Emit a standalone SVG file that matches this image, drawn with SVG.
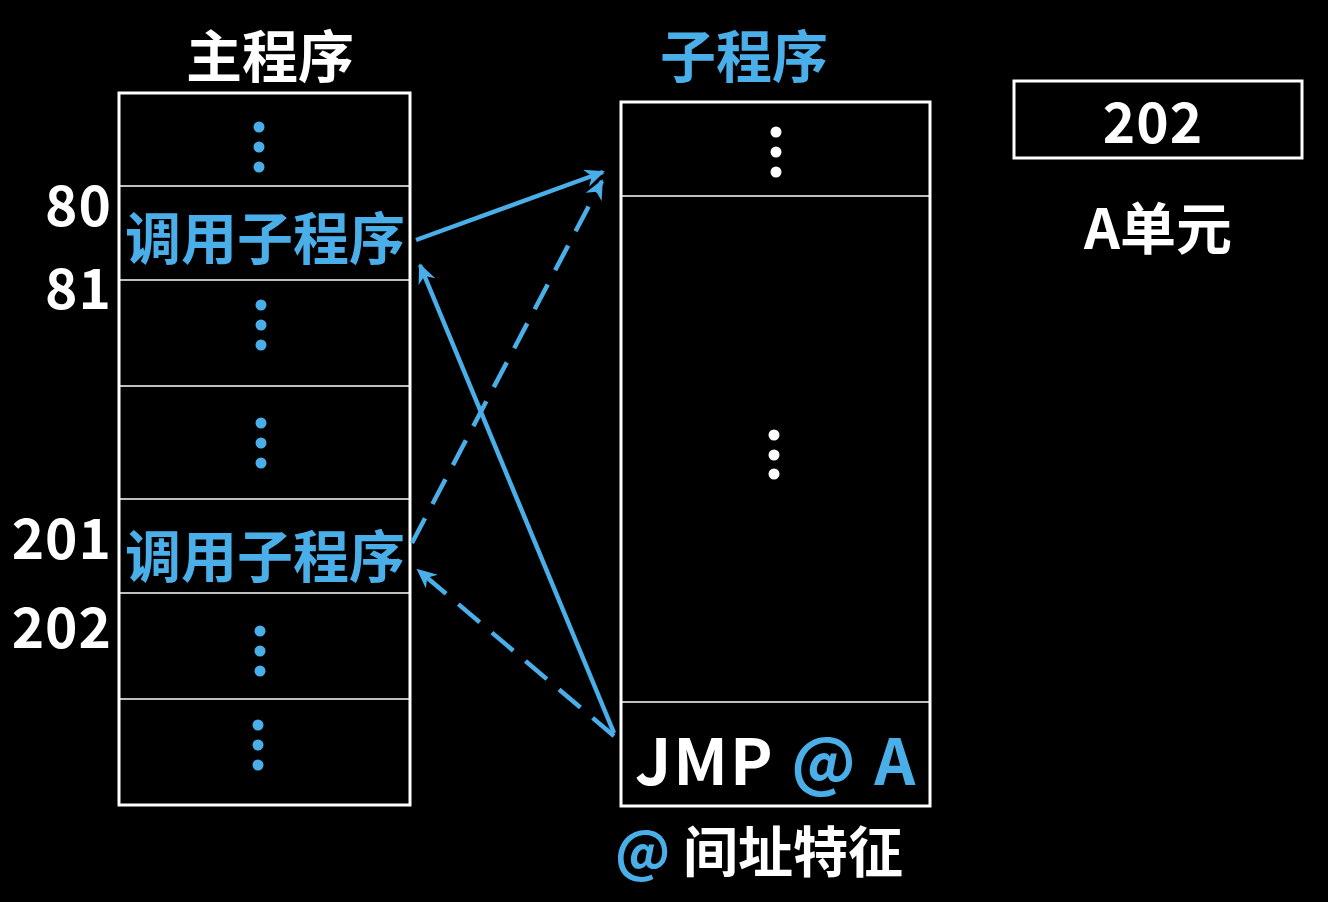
<svg xmlns="http://www.w3.org/2000/svg" width="1328" height="902" viewBox="0 0 1328 902">
<style>
.box{fill:none;stroke:#fff;stroke-width:3}
.div{stroke:#fff;stroke-width:1.5}
.t{font-family:"Noto Sans CJK SC","Open Sans",sans-serif;font-weight:bold}
.w{fill:#fff}
.b{fill:#4aaee8}
.dot{fill:#4aaee8}
.wd{fill:#fff}
.c{stroke:#4aaee8;stroke-width:4.5;fill:none}
.dash{stroke-dasharray:28 16}
.num{font-size:55px;letter-spacing:1px}
</style>
<defs>
<marker id="ah" markerWidth="22" markerHeight="18" refX="18" refY="9" orient="auto" markerUnits="userSpaceOnUse">
<path d="M0,0 L20,9 L0,18 L6,9 z" fill="#4aaee8"/>
</marker>
</defs>
<rect width="1328" height="902" fill="#000"/>

<g id="main-title"><text class="t w" x="270" y="77" font-size="56" text-anchor="middle">主程序</text></g>
<g id="sub-title"><text class="t b" x="744" y="77" font-size="56" text-anchor="middle">子程序</text></g>

<g id="main-program">
<rect class="box" x="119" y="93" width="291" height="712"/>
<line class="div" x1="119" y1="186" x2="410" y2="186"/>
<line class="div" x1="119" y1="280" x2="410" y2="280"/>
<line class="div" x1="119" y1="386" x2="410" y2="386"/>
<line class="div" x1="119" y1="499" x2="410" y2="499"/>
<line class="div" x1="119" y1="593" x2="410" y2="593"/>
<line class="div" x1="119" y1="699" x2="410" y2="699"/>
<g class="dot">
<circle cx="259" cy="127" r="5.5"/><circle cx="259" cy="147" r="5.5"/><circle cx="259" cy="167" r="5.5"/>
<circle cx="261" cy="305" r="5.5"/><circle cx="261" cy="325" r="5.5"/><circle cx="261" cy="345" r="5.5"/>
<circle cx="261" cy="423" r="5.5"/><circle cx="261" cy="443" r="5.5"/><circle cx="261" cy="463" r="5.5"/>
<circle cx="260" cy="631" r="5.5"/><circle cx="260" cy="651" r="5.5"/><circle cx="260" cy="671" r="5.5"/>
<circle cx="258" cy="725" r="5.5"/><circle cx="258" cy="745" r="5.5"/><circle cx="258" cy="765" r="5.5"/>
</g>
<text class="t b" x="265" y="259" font-size="56" text-anchor="middle">调用子程序</text>
<text class="t b" x="265" y="577" font-size="56" text-anchor="middle">调用子程序</text>
</g>

<g id="addresses">
<text class="t w num" x="112" y="226" text-anchor="end">80</text>
<text class="t w num" x="112" y="309" text-anchor="end">81</text>
<text class="t w num" x="112" y="559" text-anchor="end">201</text>
<text class="t w num" x="112" y="648" text-anchor="end">202</text>
</g>

<g id="sub-program">
<rect class="box" x="621" y="102" width="309" height="704"/>
<line class="div" x1="621" y1="196" x2="930" y2="196"/>
<line class="div" x1="621" y1="702" x2="930" y2="702"/>
<g class="wd">
<circle cx="776" cy="132" r="5.5"/><circle cx="776" cy="152" r="5.5"/><circle cx="776" cy="172" r="5.5"/>
<circle cx="774" cy="435" r="5.5"/><circle cx="774" cy="455" r="5.5"/><circle cx="774" cy="474" r="5.5"/>
</g>
<text class="t" x="635" y="785" font-size="64" letter-spacing="2"><tspan class="w">JMP </tspan><tspan class="b">@ A</tspan></text>
</g>

<g id="indirect-note">
<text class="t" x="615" y="872" font-size="55"><tspan class="b">@ </tspan><tspan class="w">间址特征</tspan></text>
</g>

<g id="cell-A">
<rect class="box" x="1014" y="81" width="288" height="77"/>
<text class="t w num" x="1153" y="143" text-anchor="middle">202</text>
<text class="t w" x="1158" y="249" font-size="56" text-anchor="middle">A单元</text>
</g>

<g id="connectors">
<line class="c" x1="416" y1="240" x2="603" y2="172" marker-end="url(#ah)"/>
<line class="c dash" x1="412" y1="543" x2="602" y2="181" marker-end="url(#ah)"/>
<line class="c" x1="614" y1="733" x2="420" y2="265" marker-end="url(#ah)"/>
<line class="c dash" x1="614" y1="736" x2="418" y2="570" marker-end="url(#ah)"/>
</g>
</svg>
